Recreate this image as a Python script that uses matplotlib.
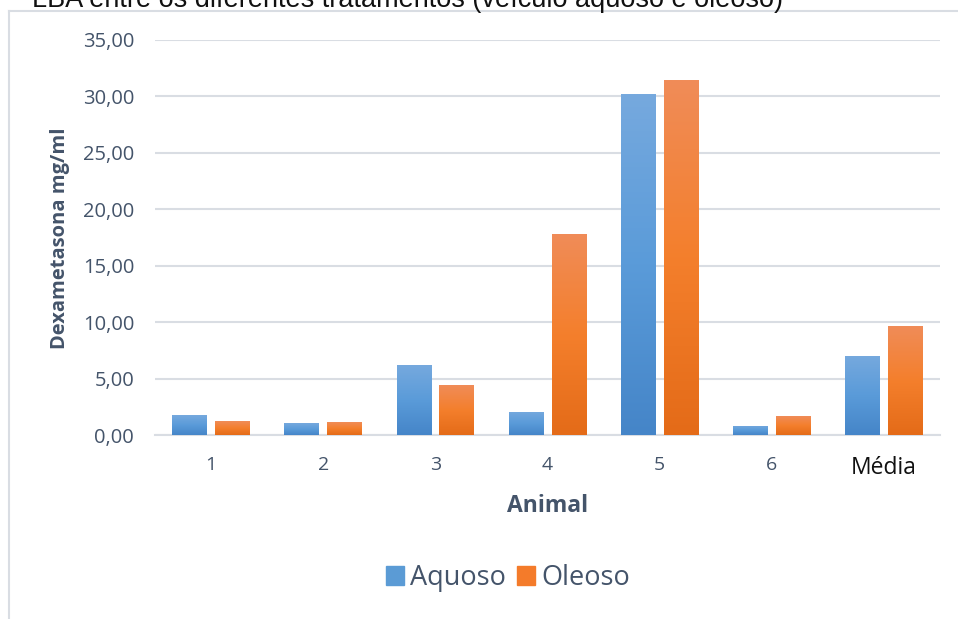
import numpy as np
import matplotlib.pyplot as plt
from matplotlib.colors import LinearSegmentedColormap
from matplotlib.patches import Rectangle
from matplotlib.lines import Line2D

# Dexametasona por animal, veículo aquoso x oleoso
animais = ['1', '2', '3', '4', '5', '6', 'Média']
aquoso = [1.77, 1.06, 6.20, 2.04, 30.20, 0.80, 7.01]
oleoso = [1.24, 1.15, 4.43, 17.80, 31.45, 1.68, 9.65]

cor_texto = '#44546a'
azul = LinearSegmentedColormap.from_list('azul', ['#4585c8', '#5a9bd9', '#76a9de'])
laranja = LinearSegmentedColormap.from_list('laranja', ['#e46b18', '#f47f2c', '#f08c58'])

plt.rcParams['font.family'] = ['Open Sans', 'DejaVu Sans']

fig = plt.figure(figsize=(9.58, 6.19), dpi=100)
ax = fig.add_axes([155 / 958, 1 - 435 / 619, 785 / 958, 395 / 619])

x = np.arange(len(animais))
w = 0.31
gap = 0.036
b1 = ax.bar(x - w / 2 - gap, aquoso, w, color='#5b9bd5', zorder=2)
b2 = ax.bar(x + w / 2 + gap, oleoso, w, color='#f47b2a', zorder=2)

# preenchimento em degradê, mais claro no topo
grad = np.linspace(0, 1, 256).reshape(-1, 1)
for barras, cmap in ((b1, azul), (b2, laranja)):
    for bar in barras:
        x0, y0 = bar.get_x(), bar.get_y()
        x1, y1 = x0 + bar.get_width(), y0 + bar.get_height()
        im = ax.imshow(grad, cmap=cmap, extent=(x0, x1, y0, y1), origin='lower',
                       aspect='auto', zorder=3)
        im.set_clip_path(bar)

ax.set_xlim(-0.5, len(animais) - 0.5)
ax.set_ylim(0, 35)
ax.set_yticks(np.arange(0, 36, 5))
ax.set_yticklabels([f'{v:.2f}'.replace('.', ',') for v in np.arange(0, 36, 5)],
                   color=cor_texto, fontsize=14.5)
ax.set_xticks(x)
ax.set_xticklabels(animais, color=cor_texto, fontsize=14)
media = ax.get_xticklabels()[-1]
media.set_color('#111111')
media.set_fontsize(16.5)
ax.tick_params(axis='x', length=0, pad=15)
ax.tick_params(axis='y', length=0, pad=15)

ax.grid(axis='y', color='#d9dde3', linewidth=1.5, zorder=0)
for s in ('top', 'right', 'left'):
    ax.spines[s].set_visible(False)
ax.spines['bottom'].set_color('#d9dde3')
ax.spines['bottom'].set_linewidth(1.5)

fig.text(60 / 958, 1 - 238 / 619, 'Dexametasona mg/ml', rotation=90, ha='center',
         va='center', fontsize=14.5, fontweight='bold', color=cor_texto)
fig.text(548 / 958, 1 - 506 / 619, 'Animal', ha='center', va='center',
         fontsize=16.5, fontweight='bold', color=cor_texto)

# título cortado no topo da imagem
fig.text(32 / 958, 1 - 7 / 619, 'LBA entre os diferentes tratamentos (veículo aquoso e oleoso)',
         ha='left', va='baseline', fontsize=19.5, family='Liberation Sans', color='#111111')

# moldura da área do gráfico
fig.add_artist(Line2D([9 / 958, 9 / 958], [0, 1 - 11 / 619], transform=fig.transFigure,
                      color='#d9dde3', linewidth=1.5))
fig.add_artist(Line2D([9 / 958, 1], [1 - 11 / 619, 1 - 11 / 619], transform=fig.transFigure,
                      color='#d9dde3', linewidth=1.5))

handles = [Rectangle((0, 0), 1, 1, color='#5b9bd5'), Rectangle((0, 0), 1, 1, color='#f47b2a')]
leg = fig.legend(handles, ['Aquoso', 'Oleoso'], loc='center', bbox_to_anchor=(508 / 958, 1 - 578 / 619),
                 ncol=2, frameon=False, fontsize=19.5, handlelength=0.65, handleheight=0.65,
                 handletextpad=0.25, columnspacing=0.4)
for t in leg.get_texts():
    t.set_color(cor_texto)

fig.savefig('out.png', dpi=100)
